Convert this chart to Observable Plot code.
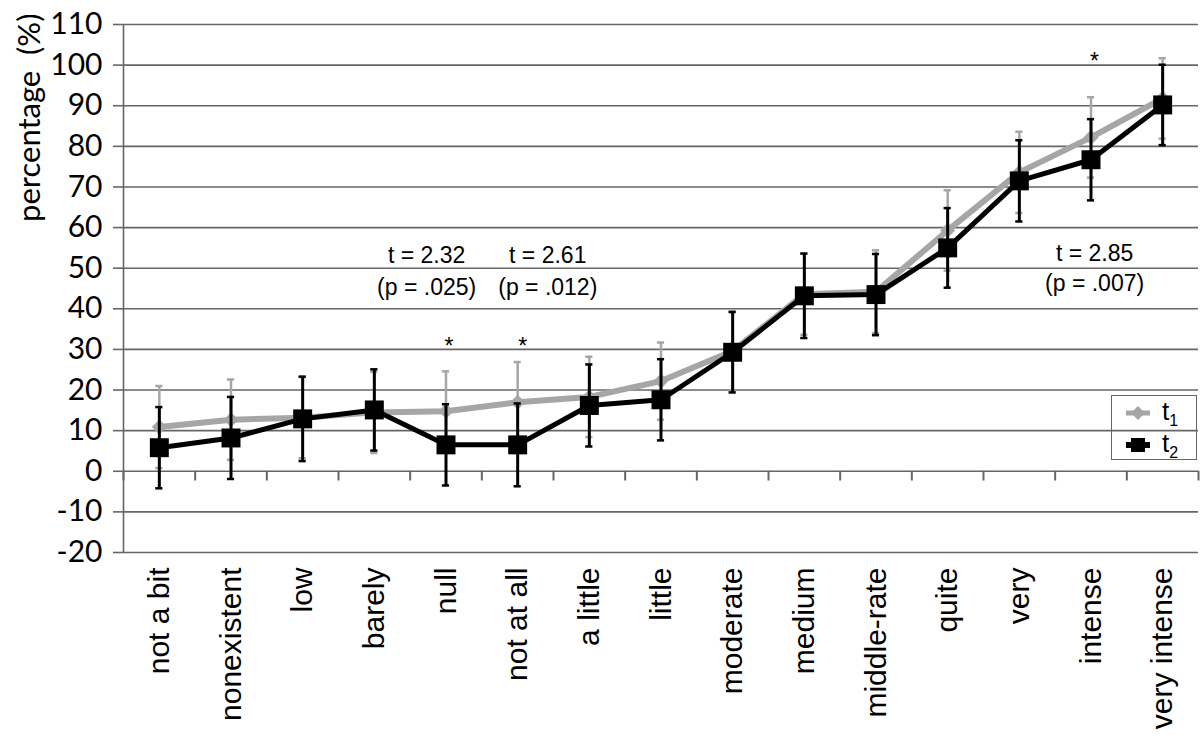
<!DOCTYPE html>
<html>
<head>
<meta charset="utf-8">
<script src="https://cdn.jsdelivr.net/npm/d3@7"></script>
<script src="https://cdn.jsdelivr.net/npm/@observablehq/plot@0.6"></script>
<style>
  html, body { margin: 0; padding: 0; background: #fff; }
  #wrap { position: relative; width: 1200px; height: 754px; }
  #legend { position: absolute; left: 1111px; top: 395px; width: 86px; height: 65px;
    border: 1.5px solid #666; box-sizing: border-box; font-family: "Liberation Sans", Arial, sans-serif; }
  .row { position: absolute; left: 0; width: 100%; height: 50%; }
  .row svg { position: absolute; left: 12px; top: 8px; }
  .row .lab { position: absolute; left: 50px; top: 0px; font-size: 26px; color: #000; }
  .row .lab sub { font-size: 16px; vertical-align: -6px; }
</style>
</head>
<body>
<div id="wrap"></div>
<script>
const categories = ["not a bit","nonexistent","low","barely","null","not at all","a little","little","moderate","medium","middle-rate","quite","very","intense","very intense"];
const t1 = [10.9, 12.7, 13.2, 14.5, 14.8, 17.0, 18.3, 22.2, 29.6, 43.6, 44.2, 59.3, 73.6, 82.2, 91.8];
const t2 = [5.8, 8.2, 12.9, 15.1, 6.5, 6.5, 16.2, 17.6, 29.3, 43.2, 43.5, 55.0, 71.5, 76.7, 90.2];
const e1 = [10.1, 9.9, 10.0, 10.0, 9.8, 9.9, 9.9, 9.5, 9.8, 10.0, 10.2, 9.9, 10.0, 9.9, 9.9];
const e2 = [10.0, 10.1, 10.4, 10.0, 10.0, 10.2, 10.1, 10.0, 9.9, 10.4, 10.0, 9.8, 10.0, 10.0, 9.9];
const yTicks = [-20, -10, 0, 10, 20, 30, 40, 50, 60, 70, 80, 90, 100, 110];
const annText = ["t = 2.32", "(p = .025)", "t = 2.61", "(p = .012)", "t = 2.85", "(p = .007)"];
const annX = [3.73, 3.73, 5.42, 5.42, 13.05, 13.05];
const annY = [53.1, 45.3, 53.1, 45.3, 53.6, 46.2];
const starX = [4.04, 5.07, 13.05];
const starY = [30.7, 30.7, 100.9];
const yLabel = "percentage\u00a0 (%)";

const idx = categories.map((_, i) => i);
const bounds = categories.map((_, i) => i - 0.5).concat([categories.length - 0.5]);
const ann = annText.map((t, i) => ({t, x: annX[i], y: annY[i]}));
const stars = starX.map((x, i) => ({x, y: starY[i]}));

const gray = "#a6a6a6";
const chart = Plot.plot({
  width: 1200, height: 754,
  marginLeft: 123, marginRight: 2, marginTop: 24, marginBottom: 202,
  x: {type: "linear", domain: [-0.5, 14.5]},
  y: {domain: [-20, 110]},
  style: {fontFamily: "'Liberation Sans', Arial, sans-serif", background: "#fff", overflow: "visible", color: "#000"},
  marks: [
    Plot.ruleY(yTicks, {stroke: "#666", strokeWidth: 1.6}),
    Plot.ruleX([-0.5], {stroke: "#666", strokeWidth: 1.6}),
    Plot.ruleX(bounds, {y1: 0, y2: -2.4, stroke: "#666", strokeWidth: 2}),
    Plot.axisY(yTicks, {tickSize: 10, tickPadding: 11, fontSize: 30, fontFamily: "Lato", tickFormat: d => String(d), stroke: "#666", strokeWidth: 1.6, fill: "#000", label: null}),
    Plot.axisX(idx, {tickFormat: i => categories[i], tickRotate: -90, tickSize: 0, tickPadding: 15, fontSize: 30, fill: "#000", label: null}),
    Plot.text([yLabel], {frameAnchor: "top-left", rotate: -90, textAnchor: "end", dx: -106, dy: -11, fontSize: 31, fontFamily: "Lato", fill: "#000"}),
    // t1 series
    Plot.ruleX(idx, {x: i => i, y1: i => t1[i] - e1[i], y2: i => t1[i] + e1[i], stroke: gray, strokeWidth: 2.5}),
    Plot.ruleY(idx, {y: i => t1[i] + e1[i], x1: i => i - 0.05, x2: i => i + 0.05, stroke: gray, strokeWidth: 2.5}),
    Plot.ruleY(idx, {y: i => t1[i] - e1[i], x1: i => i - 0.05, x2: i => i + 0.05, stroke: gray, strokeWidth: 2.5}),
    Plot.line(idx, {x: i => i, y: i => t1[i], stroke: gray, strokeWidth: 6}),
    Plot.dot(idx, {x: i => i, y: i => t1[i], symbol: "diamond2", r: 6.8, fill: gray, stroke: null}),
    // t2 series
    Plot.ruleX(idx, {x: i => i, y1: i => t2[i] - e2[i], y2: i => t2[i] + e2[i], stroke: "#000", strokeWidth: 3}),
    Plot.ruleY(idx, {y: i => t2[i] + e2[i], x1: i => i - 0.05, x2: i => i + 0.05, stroke: "#000", strokeWidth: 2.5}),
    Plot.ruleY(idx, {y: i => t2[i] - e2[i], x1: i => i - 0.05, x2: i => i + 0.05, stroke: "#000", strokeWidth: 2.5}),
    Plot.line(idx, {x: i => i, y: i => t2[i], stroke: "#000", strokeWidth: 5}),
    Plot.dot(idx, {x: i => i, y: i => t2[i], symbol: "square", r: 10.7, fill: "#000", stroke: null}),
    // annotations
    Plot.text(ann, {x: "x", y: "y", text: "t", fontSize: 23, fill: "#000"}),
    Plot.text(stars, {x: "x", y: "y", text: () => "*", fontSize: 23, fill: "#000"})
  ]
});
const wrap = document.getElementById("wrap");
wrap.appendChild(chart);

const legend = document.createElement("div");
legend.id = "legend";
legend.innerHTML = `
  <div class="row" style="top:0">
    <svg width="28" height="18"><line x1="2" y1="9" x2="26" y2="9" stroke="${gray}" stroke-width="5"/><path d="M14 2 L21 9 L14 16 L7 9 Z" fill="${gray}"/></svg>
    <span class="lab">t<sub>1</sub></span>
  </div>
  <div class="row" style="top:50%">
    <svg width="28" height="18"><line x1="2" y1="9" x2="26" y2="9" stroke="#000" stroke-width="6"/><rect x="7" y="2" width="14" height="14" fill="#000"/></svg>
    <span class="lab">t<sub>2</sub></span>
  </div>`;
wrap.appendChild(legend);
</script>
</body>
</html>
